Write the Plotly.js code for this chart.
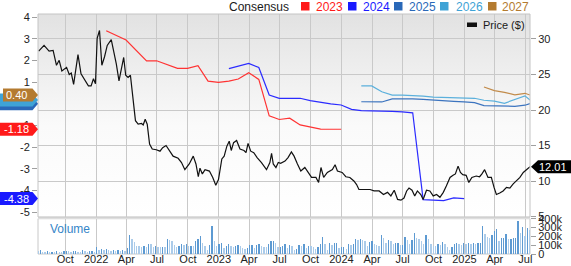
<!DOCTYPE html>
<html><head><meta charset="utf-8">
<script src="https://cdn.plot.ly/plotly-3.0.1.min.js"></script>
<style>html,body{margin:0;padding:0;background:#fff;}#chart{width:571px;height:266px;}</style>
</head><body><div id="chart"></div>
<script>
// ---------------- DATA ----------------
const priceDates = ['2021-07-14','2021-07-30','2021-08-14','2021-08-26','2021-09-05','2021-09-13','2021-09-21','2021-10-05','2021-10-13','2021-10-19','2021-10-26','2021-11-02','2021-11-08','2021-11-17','2021-11-27','2021-12-09','2021-12-17','2021-12-24','2021-12-30',
'2022-01-04','2022-01-11','2022-01-18','2022-01-26','2022-02-03','2022-02-15','2022-02-25','2022-03-02','2022-03-10','2022-03-17','2022-03-24','2022-03-30','2022-04-06','2022-04-13','2022-04-19','2022-04-28','2022-05-06','2022-05-16','2022-05-21','2022-05-27','2022-06-02','2022-06-09','2022-06-17','2022-06-29','2022-07-10','2022-07-18','2022-07-28','2022-08-07','2022-08-18','2022-09-02','2022-09-12','2022-09-22','2022-10-05','2022-10-17','2022-10-25','2022-11-01','2022-11-06','2022-11-13','2022-11-21','2022-12-04','2022-12-14','2022-12-23','2022-12-31',
'2023-01-10','2023-01-17','2023-01-25','2023-02-01','2023-02-07','2023-02-14','2023-02-23','2023-03-05','2023-03-17','2023-03-23','2023-03-29','2023-04-06','2023-04-15','2023-04-25','2023-05-08','2023-05-23','2023-06-02','2023-06-07','2023-06-12','2023-06-20','2023-06-27','2023-07-04','2023-07-17','2023-07-26','2023-08-05','2023-08-13','2023-08-23','2023-09-02','2023-09-14','2023-09-24','2023-10-04','2023-10-17','2023-10-25','2023-11-01','2023-11-09','2023-11-20','2023-12-05','2023-12-13','2023-12-20',
'2024-01-03','2024-01-14','2024-01-26','2024-02-07','2024-02-15','2024-02-22','2024-03-08','2024-03-26','2024-04-07','2024-04-22','2024-05-05','2024-05-17','2024-05-27','2024-06-06','2024-06-16','2024-06-26','2024-07-05','2024-07-13','2024-07-20','2024-07-29','2024-08-06','2024-08-14','2024-08-24','2024-08-31','2024-09-10','2024-09-20','2024-09-30','2024-10-10','2024-10-20','2024-10-30','2024-11-08','2024-11-19','2024-11-28','2024-12-05','2024-12-13','2024-12-20','2024-12-27',
'2025-01-06','2025-01-14','2025-01-23','2025-02-05','2025-02-15','2025-02-22','2025-03-02','2025-03-12','2025-03-22','2025-03-30','2025-04-06','2025-04-16','2025-04-26','2025-05-06','2025-05-16','2025-05-26','2025-06-05','2025-06-15','2025-06-25','2025-07-05','2025-07-11','2025-07-15'];
const priceValues = [28.3,29.1,28.3,28.4,26.3,27.0,25.5,26.0,25.0,25.2,23.6,26.0,27.8,25.1,24.4,23.4,23.4,24.4,23.7,
30.1,31.2,26.3,27.5,29.1,29.9,27.9,26.5,24.1,26.0,27.4,24.9,24.6,24.9,22.3,18.5,18.0,18.1,17.9,18.7,18.0,15.2,14.5,14.4,14.2,14.7,15.0,14.2,13.5,13.2,12.6,11.6,12.4,13.5,12.4,10.6,11.8,11.0,11.6,11.4,10.5,9.4,10.2,
13.1,13.5,14.9,15.6,14.3,15.4,15.7,14.5,14.3,14.0,15.3,14.2,14.0,13.3,12.6,11.6,12.6,13.9,12.4,11.9,12.6,12.5,12.8,13.3,14.1,13.5,12.4,11.4,11.9,11.2,10.5,10.5,9.8,11.9,10.5,11.2,11.6,12.3,11.4,
11.2,10.6,10.5,10.0,9.5,8.8,8.8,8.8,8.6,8.6,8.1,8.4,7.9,8.7,7.4,7.3,7.6,8.6,9.0,8.7,7.9,8.6,8.1,7.4,8.7,8.6,7.9,8.1,7.7,8.4,9.3,10.5,10.8,11.0,12.1,11.2,10.9,
10.8,9.8,10.5,10.7,10.6,11.0,11.6,10.5,10.5,9.1,8.1,8.3,8.6,9.1,9.0,9.6,10.0,10.5,11.2,11.6,11.8,12.01];

const eps2023Dates = ['2022-01-31','2022-03-31','2022-05-31','2022-06-30','2022-08-31','2022-09-30','2022-10-31','2022-11-30','2022-12-31','2023-01-31','2023-02-28','2023-03-31','2023-04-30','2023-05-31','2023-06-30','2023-07-31','2023-08-31','2023-09-30','2023-10-31','2023-12-31'];
const eps2023 = [3.37,2.94,1.98,1.98,1.63,1.63,1.75,1.04,0.98,1.04,1.14,1.43,1.12,-0.56,-0.73,-0.67,-0.98,-1.06,-1.17,-1.18];

const eps2024Dates = ['2023-01-31','2023-03-31','2023-04-30','2023-05-31','2023-06-30','2023-07-31','2023-08-31','2023-09-30','2023-10-31','2023-11-30','2023-12-31','2024-01-31','2024-02-29','2024-03-31','2024-04-30','2024-05-31','2024-06-30','2024-07-31','2024-08-31','2024-09-30','2024-10-31','2024-11-30','2024-12-31'];
const eps2024 = [1.62,1.86,1.67,0.40,0.25,0.25,0.25,0.14,0.05,-0.01,-0.06,-0.26,-0.32,-0.32,-0.32,-0.35,-0.38,-0.42,-4.43,-4.45,-4.47,-4.35,-4.38];

const eps2025Dates = ['2024-02-29','2024-03-31','2024-04-30','2024-05-31','2024-06-30','2024-07-31','2024-08-31','2024-09-30','2024-10-31','2024-11-30','2024-12-31','2025-01-31','2025-02-28','2025-03-31','2025-04-30','2025-05-31','2025-06-30','2025-07-15'];
const eps2025 = [0.09,0.08,0.08,0.22,0.23,0.22,0.20,0.16,0.14,0.11,0.08,0.05,-0.09,-0.11,-0.13,-0.12,-0.07,0.00];

const eps2026Dates = eps2025Dates;
const eps2026 = [0.82,0.82,0.55,0.40,0.40,0.38,0.35,0.30,0.29,0.28,0.27,0.25,0.16,0.12,0.02,0.19,0.36,0.17];

const eps2027Dates = ['2025-02-28','2025-03-31','2025-04-30','2025-05-31','2025-06-30','2025-07-15'];
const eps2027 = [0.77,0.60,0.52,0.41,0.48,0.40];

// weekly volume (thousands of shares), weeks starting 2021-07-12
const volStart = '2021-07-12';
const volumeK = [30,45,25,20,35,20,25,20,30,25,20,30,35,30,25,30,35,28,25,40,30,25,30,35,25,
80,50,55,45,60,40,35,40,30,45,35,40,30,
69,212,173,135,95,88,85,90,80,115,
110,81,88,85,75,81,78,165,160,146,
100,80,88,115,100,108,88,90,88,146,
165,204,127,95,50,100,312,146,88,115,
127,69,90,115,88,77,88,100,90,69,
58,69,100,100,69,100,108,88,80,77,
108,146,146,127,77,80,88,
108,69,100,88,50,58,100,88,115,69,
96,88,77,62,81,108,192,108,42,127,
100,127,127,69,81,81,58,115,100,115,
173,158,165,154,146,96,138,146,115,100,
90,212,177,127,154,146,108,127,127,100,
100,192,154,108,154,242,185,165,146,115,
215,165,108,96,88,115,100,138,108,77,
50,77,115,127,108,100,127,108,127,115,
127,115,127,127,319,231,192,177,215,262,
281,146,177,177,231,165,165,185,185,377,
242,308,204,300,273];

const tickDates = ['2021-10-01','2022-01-01','2022-04-01','2022-07-01','2022-10-01','2023-01-01','2023-04-01','2023-07-01','2023-10-01','2024-01-01','2024-04-01','2024-07-01','2024-10-01','2025-01-01','2025-04-01','2025-07-01'];
const tickLabels = ['Oct','2022','Apr','Jul','Oct','2023','Apr','Jul','Oct','2024','Apr','Jul','Oct','2025','Apr','Jul'];
const yearNames = ['2023','2024','2025','2026','2027'];
const yearColors = ['#ff1a1a','#1a1aff','#2a68b8','#3fa3d6','#b47b30'];
const lineColors = ['#ff3333','#2b2bff','#3c74bf','#5bb0dc','#c28b4a'];
const priceLabel = '12.01';

// ---------------- LAYOUT HELPERS ----------------
const L=38, R=530, T=14, B=254;
const px = x => (x-L)/(R-L);
const py = y => (B-y)/(B-T);
const mainDom = [py(217), 1];
const volDom = [0, py(218.7)];
const epsRange = [-5.23, 4.14];
const priceRange = [4.93, 33.52];
const epsToPaper = v => mainDom[0] + (v-epsRange[0])/(epsRange[1]-epsRange[0])*(mainDom[1]-mainDom[0]);
const priceToPaper = v => mainDom[0] + (v-priceRange[0])/(priceRange[1]-priceRange[0])*(mainDom[1]-mainDom[0]);

const FONT = 'Liberation Sans, Arial, Helvetica, sans-serif';

const volDates = volumeK.map((v,i)=>{
  const d = new Date(Date.parse(volStart+'T00:00:00Z') + i*7*86400000);
  return d.toISOString().slice(0,10);
});
const volColors = volumeK.map((v,i)=> (i>0 && v>=volumeK[i-1]) ? '#5d9ad2' : '#acccea');

const epsSets = [[eps2023Dates,eps2023],[eps2024Dates,eps2024],[eps2025Dates,eps2025],[eps2026Dates,eps2026],[eps2027Dates,eps2027]];

const traces = [];
epsSets.forEach((s,k)=>{
  traces.push({x:s[0], y:s[1], type:'scatter', mode:'lines', xaxis:'x', yaxis:'y',
    line:{color:lineColors[k], width:1.2}, showlegend:false, hoverinfo:'skip'});
});
traces.push({x:priceDates, y:priceValues, type:'scatter', mode:'lines', xaxis:'x', yaxis:'y2',
  line:{color:'#111111', width:1.2}, showlegend:false, hoverinfo:'skip'});
traces.push({x:volDates, y:volumeK, type:'bar', xaxis:'x', yaxis:'y3',
  marker:{color:volColors, line:{width:0}}, width:4*86400000, showlegend:false, hoverinfo:'skip'});

// gradient background
const gradSvg = "<svg xmlns='http://www.w3.org/2000/svg' width='10' height='100' viewBox='0 0 10 100' preserveAspectRatio='none'><defs><linearGradient id='g' x1='0' y1='0' x2='0' y2='1'><stop offset='0' stop-color='#e2e2e2'/><stop offset='0.55' stop-color='#fafafa'/><stop offset='1' stop-color='#ffffff'/></linearGradient></defs><rect width='10' height='100' fill='url(#g)'/></svg>";
const gradUri = 'data:image/svg+xml;charset=utf-8,' + encodeURIComponent(gradSvg);

const shapes = [];
const annotations = [];

// panel separator band
shapes.push({type:'rect', xref:'paper', yref:'paper', x0:0, x1:1, y0:py(219), y1:py(216.8), fillcolor:'#dedede', line:{width:0}, layer:'above'});
// frames
shapes.push({type:'rect', xref:'paper', yref:'paper', x0:0, x1:1, y0:mainDom[0], y1:1, line:{color:'#c4c4c4', width:1}, fillcolor:'rgba(0,0,0,0)', layer:'above'});
shapes.push({type:'rect', xref:'paper', yref:'paper', x0:0, x1:1, y0:0, y1:volDom[1], line:{color:'#c8c8c8', width:1}, fillcolor:'rgba(0,0,0,0)', layer:'below'});

// header legend
annotations.push({xref:'paper', yref:'paper', x:px(227), y:py(6.5), xanchor:'left', yanchor:'middle', text:'Consensus', showarrow:false, font:{family:FONT, size:12, color:'#1a1a1a'}});
const sqX = [301, 348, 394, 440, 488];
const txX = [313.5, 360.5, 406.5, 453.5, 499.5];
yearNames.forEach((n,k)=>{
  shapes.push({type:'rect', xref:'paper', yref:'paper', x0:px(sqX[k]), x1:px(sqX[k]+8.5), y0:py(10.5), y1:py(2), fillcolor:yearColors[k], line:{width:0}});
  annotations.push({xref:'paper', yref:'paper', x:px(txX[k]), y:py(6.5), xanchor:'left', yanchor:'middle', text:n, showarrow:false, font:{family:FONT, size:12, color:yearColors[k]}});
});

// price legend inside plot
shapes.push({type:'rect', xref:'paper', yref:'paper', x0:px(467), x1:px(477), y0:py(27), y1:py(22.5), fillcolor:'#111', line:{width:0}, layer:'above'});
annotations.push({xref:'paper', yref:'paper', x:px(481), y:py(25), xanchor:'left', yanchor:'middle', text:'Price ($)', showarrow:false, font:{family:FONT, size:11, color:'#1a1a1a'}});

// Volume label
annotations.push({xref:'paper', yref:'paper', x:px(47.5), y:py(228.5), xanchor:'left', yanchor:'middle', text:'Volume', showarrow:false, font:{family:FONT, size:12, color:'#3585c8'}});

// left value tags (2025, 2026 underneath and covered, then 2027, 2023, 2024)
const hh = 6.5/(B-T);
function leftTag(v, color, x0px, label){
  const yc = epsToPaper(v);
  const x0=px(x0px), x1=px(32.5), x2=px(38);
  shapes.push({type:'path', xref:'paper', yref:'paper', layer:'above',
    path:`M${x0},${yc+hh} L${x1},${yc+hh} L${x2},${yc} L${x1},${yc-hh} L${x0},${yc-hh} Z`,
    fillcolor:color, line:{width:0}});
  if (label) annotations.push({xref:'paper', yref:'paper', x:px(16), y:yc, xanchor:'center', yanchor:'middle', text:label, showarrow:false, font:{family:FONT, size:11, color:'#ffffff'}});
}
const tagOrder = [2,3,4,0,1];
tagOrder.forEach(k=>{
  const v = epsSets[k][1][epsSets[k][1].length-1];
  const covered = (k===2 || k===3);
  leftTag(v, yearColors[k], k===4 ? 3 : 0, covered ? null : v.toFixed(2));
});

// right price tag
(function(){
  const v = priceValues[priceValues.length-1];
  const yc = priceToPaper(v);
  const tip=px(531), x1=px(538), x2=px(571);
  shapes.push({type:'path', xref:'paper', yref:'paper', layer:'above',
    path:`M${tip},${yc} L${x1},${yc+hh} L${x2},${yc+hh} L${x2},${yc-hh} L${x1},${yc-hh} Z`,
    fillcolor:'#000', line:{width:0}});
  annotations.push({xref:'paper', yref:'paper', x:px(553), y:yc, xanchor:'center', yanchor:'middle', text:priceLabel, showarrow:false, font:{family:FONT, size:11, color:'#ffffff'}});
})();

const tickFont = {family:FONT, size:11, color:'#222'};
const layout = {
  width:571, height:266,
  margin:{l:L, r:571-R, t:T, b:266-B, pad:0},
  paper_bgcolor:'#ffffff', plot_bgcolor:'rgba(0,0,0,0)',
  showlegend:false,
  font:{family:FONT, size:11, color:'#222'},
  images:[{source:gradUri, xref:'paper', yref:'paper', x:0, y:1, sizex:1, sizey:1-mainDom[0], sizing:'stretch', xanchor:'left', yanchor:'top', layer:'below'}],
  xaxis:{type:'date', range:['2021-07-12','2025-07-15'], anchor:'y3', tickmode:'array', tickvals:tickDates, ticktext:tickLabels,
    showgrid:true, gridcolor:'#c9c9c9', gridwidth:1, ticks:'', showline:false, zeroline:false, tickfont:tickFont, ticklabelstandoff:-3, fixedrange:true},
  yaxis:{domain:mainDom, range:epsRange, tickmode:'array', tickvals:[-5,-4,-3,-2,-1,0,1,2,3,4], ticktext:['-5','-4','-3','-2','-1','0','1','2','3','4'],
    showgrid:false, zeroline:false, ticks:'outside', ticklen:5, tickcolor:'#a0a0a0', tickwidth:1, showline:false, tickfont:tickFont},
  yaxis2:{domain:mainDom, overlaying:'y', side:'right', anchor:'x', range:priceRange, tickmode:'array', tickvals:[5,10,15,20,25,30],
    showgrid:true, gridcolor:'#c9c9c9', gridwidth:1, zeroline:false, ticks:'outside', ticklen:5, tickcolor:'#a0a0a0', showline:false, tickfont:tickFont},
  yaxis3:{domain:volDom, side:'right', anchor:'x', range:[0,400], tickmode:'array', tickvals:[0,100,200,300,400], ticktext:['0','100k','200k','300k','400k'],
    showgrid:false, zeroline:false, ticks:'outside', ticklen:5, tickcolor:'#a0a0a0', showline:false, tickfont:tickFont},
  bargap:0,
  shapes:shapes,
  annotations:annotations
};

Plotly.newPlot('chart', traces, layout, {displayModeBar:false, staticPlot:true});
</script>
</body></html>
